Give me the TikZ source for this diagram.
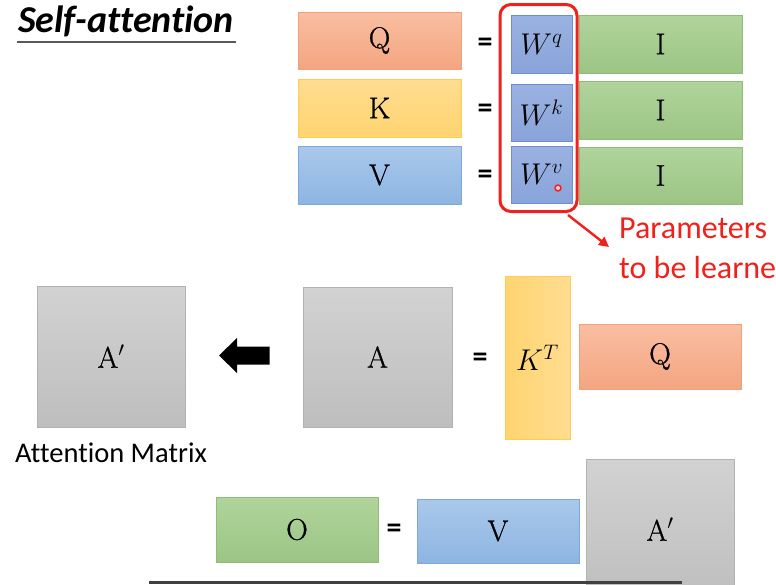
\RequirePackage{fix-cm}
\documentclass[tikz,border=0pt]{standalone}
\usepackage{fontspec}
\usetikzlibrary{arrows.meta}
\newfontfamily\calibri[Ligatures=NoCommon]{Carlito}
\newfontfamily\matfont[FakeBold=0.8]{Latin Modern Roman}
\definecolor{qtop}{HTML}{F9BEA1}
\definecolor{qbot}{HTML}{F4A581}
\definecolor{qdraw}{HTML}{F0A07C}
\definecolor{ktop}{HTML}{FFDC90}
\definecolor{kbot}{HTML}{FFD470}
\definecolor{kdraw}{HTML}{FFCC55}
\definecolor{vtop}{HTML}{AAC8EB}
\definecolor{vbot}{HTML}{8DB5E2}
\definecolor{vdraw}{HTML}{7EA7DA}
\definecolor{wtop}{HTML}{9AB2E1}
\definecolor{wbot}{HTML}{89A4DA}
\definecolor{wdraw}{HTML}{6E8DD0}
\definecolor{gtop}{HTML}{B0D49C}
\definecolor{gbot}{HTML}{9CC585}
\definecolor{gdraw}{HTML}{8FBC77}
\definecolor{atop}{HTML}{D2D2D2}
\definecolor{abot}{HTML}{BEBEBE}
\definecolor{adraw}{HTML}{B2B2B2}
\definecolor{pred}{HTML}{F0201C}
\begin{document}
\begin{tikzpicture}[x=1pt,y=-1pt,
  mat/.style={rectangle, inner sep=0pt, outer sep=0pt, line width=0.8pt,
    font=\matfont\fontsize{30}{34}\selectfont},
  qm/.style={mat, draw=qdraw, top color=qtop, bottom color=qbot},
  km/.style={mat, draw=kdraw, top color=ktop, bottom color=kbot},
  vm/.style={mat, draw=vdraw, top color=vtop, bottom color=vbot},
  wm/.style={mat, draw=wdraw, top color=wtop, bottom color=wbot},
  im/.style={mat, draw=gdraw, top color=gtop, bottom color=gbot},
  am/.style={mat, draw=adraw, top color=atop, bottom color=abot},
  eq/.style={inner sep=0pt, font=\calibri\bfseries\fontsize{30}{32}\selectfont},
  redtext/.style={inner sep=0pt, anchor=base west, text=pred, font=\calibri\fontsize{32}{36}\selectfont}
]
\useasboundingbox (0,0) rectangle (776,584);
\begin{scope}
\clip (0,0) rectangle (776,584);
% title
\node[inner sep=0pt, anchor=base west, font=\calibri\bfseries\itshape\fontsize{38}{42}\selectfont] (title) at (18,32) {Self-attention};
\coordinate (ulA) at (17,41.5);
\coordinate (ulB) at (236,41.5);
\draw[line width=2pt, color=black!65] (ulA) -- (ulB);

% top block
\node[qm, minimum width=163pt, minimum height=57pt] (Q1) at (379.5,40.5) {Q};
\node[km, minimum width=163pt, minimum height=58pt] (K1) at (379.5,108) {K};
\node[vm, minimum width=163pt, minimum height=58pt] (V1) at (379.5,175) {V};
\node[eq] (e1) at (485,45) {=};
\node[eq] (e2) at (485,111) {=};
\node[eq] (e3) at (485,177) {=};
\node[wm, minimum width=61pt, minimum height=58pt] (Wq) at (541.5,44) {$W^{q}$};
\node[wm, minimum width=61pt, minimum height=57pt] (Wk) at (541.5,112.5) {$W^{k}$};
\node[wm, minimum width=61pt, minimum height=57pt] (Wv) at (541.5,174.5) {$W^{v}$};
\node[im, minimum width=163pt, minimum height=58pt] (I1) at (660.5,44) {I};
\node[im, minimum width=163pt, minimum height=58pt] (I2) at (660.5,110) {I};
\node[im, minimum width=163pt, minimum height=57pt] (I3) at (660.5,175.5) {I};
% pointer dot
\node[circle, inner sep=0pt, minimum size=6pt, draw=pred, line width=1.4pt, fill=pred!25] (dot) at (558,188) {};
% red frame
\node[rectangle, draw=pred, line width=3pt, rounded corners=11pt, minimum width=77pt, minimum height=207pt, inner sep=0pt] (R) at (538.5,108) {};
\coordinate (aS) at (568,215);
\coordinate (aE) at (609,247);
\draw[pred, line width=2.4pt, -{Triangle[length=10pt,width=10pt]}] (aS) -- (aE);
\node[redtext] (p1) at (619,238) {Parameters};
\node[redtext] (p2) at (619,278) {to be learned};

% middle row
\node[am, minimum width=148pt, minimum height=141pt] (Ap1) at (111,356.5) {A$'$};
\node[am, minimum width=149pt, minimum height=140pt] (A) at (377.5,357) {A};
\fill[black] (219,355.5) -- (237,338) -- (237,346.5) -- (269.5,346.5) -- (269.5,364.5) -- (237,364.5) -- (237,373) -- cycle;
\node[eq] (e4) at (480,360) {=};
\node[mat, draw=kdraw, left color=kbot, right color=ktop, minimum width=65pt, minimum height=163pt] (KT) at (537.5,357.5) {$K^{T}$};
\node[qm, minimum width=162pt, minimum height=65pt] (Q2) at (660,356.5) {Q};
\node[inner sep=0pt, anchor=base west, font=\calibri\fontsize{28.5}{32}\selectfont] (am) at (15,462) {Attention Matrix};

% bottom row
\node[im, minimum width=162pt, minimum height=65pt] (O) at (297,529.5) {O};
\node[eq] (e5) at (394,531) {=};
\node[vm, minimum width=162pt, minimum height=64pt] (V2) at (498,531) {V};
\node[am, minimum width=148pt, minimum height=141pt] (Ap2) at (660,529.5) {A$'$};
\coordinate (bl) at (149,582.5);
\coordinate (br) at (682,582.5);
\draw[line width=3pt, color=black!75] (bl) -- (br);
\end{scope}
\end{tikzpicture}
\end{document}
